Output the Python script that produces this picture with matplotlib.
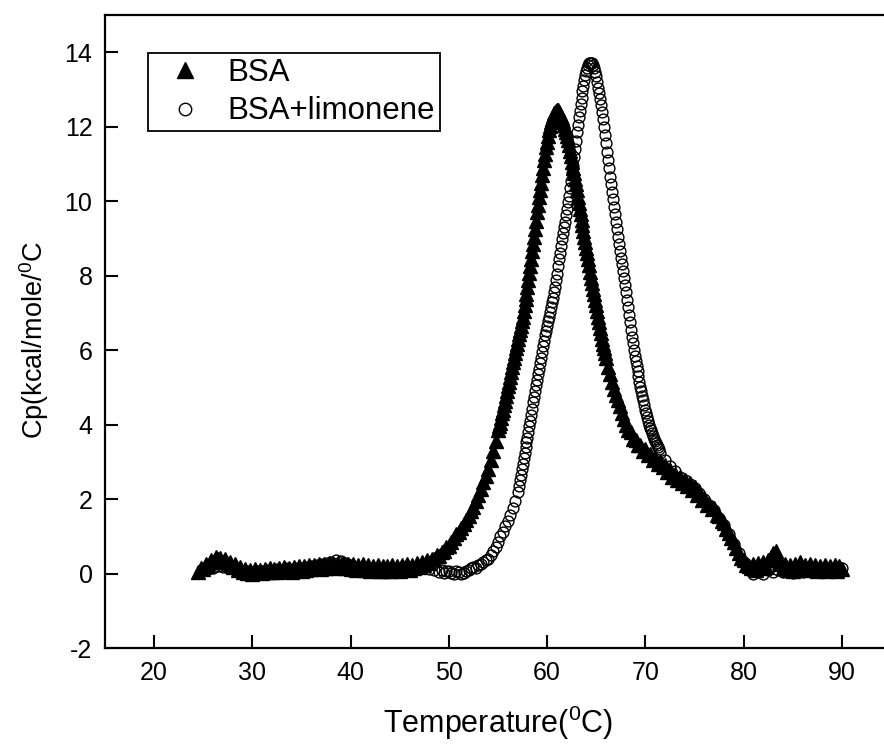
import matplotlib.pyplot as plt
import numpy as np

plt.rcParams['font.family'] = ['Liberation Sans', 'DejaVu Sans']
plt.rcParams['mathtext.fontset'] = 'custom'
plt.rcParams['mathtext.rm'] = 'Liberation Sans'
plt.rcParams['mathtext.it'] = 'Liberation Sans:italic'
plt.rcParams['axes.unicode_minus'] = False

# BSA (filled triangles): (temperature C, Cp)
bsa_base = [(24.50, 0.05), (24.75, 0.15), (25.00, 0.12), (25.25, 0.25), (25.50, 0.20), (25.75, 0.35),
            (26.00, 0.30), (26.25, 0.45), (26.50, 0.38), (26.75, 0.42), (27.00, 0.30), (27.25, 0.38),
            (27.50, 0.25), (27.75, 0.30), (28.00, 0.18), (28.25, 0.25), (28.50, 0.10), (28.75, 0.18),
            (29.00, 0.05), (29.25, 0.12), (29.50, 0.02), (29.75, 0.10), (30.00, 0.00), (30.25, 0.12),
            (30.50, 0.05), (30.75, 0.10), (31.00, 0.02), (31.25, 0.12), (31.50, 0.04), (31.75, 0.15),
            (32.00, 0.05), (32.25, 0.12), (32.50, 0.03), (32.75, 0.15), (33.00, 0.06), (33.25, 0.18),
            (33.50, 0.08), (33.75, 0.15), (34.00, 0.05), (34.25, 0.18), (34.50, 0.10), (34.75, 0.20),
            (35.00, 0.08), (35.25, 0.20), (35.50, 0.10), (35.75, 0.22), (36.00, 0.12), (36.25, 0.22),
            (36.50, 0.15), (36.75, 0.25), (37.00, 0.12), (37.25, 0.25), (37.50, 0.15), (37.75, 0.28),
            (38.00, 0.18), (38.25, 0.25), (38.50, 0.15), (38.75, 0.28), (39.00, 0.18), (39.25, 0.28),
            (39.50, 0.15), (39.75, 0.25), (40.00, 0.12), (40.25, 0.25), (40.50, 0.10), (40.75, 0.22),
            (41.00, 0.12), (41.25, 0.25), (41.50, 0.10), (41.75, 0.22), (42.00, 0.08), (42.25, 0.20),
            (42.50, 0.10), (42.75, 0.22), (43.00, 0.08), (43.25, 0.20), (43.50, 0.06), (43.75, 0.20),
            (44.00, 0.08), (44.25, 0.22), (44.50, 0.10), (44.75, 0.20), (45.00, 0.08), (45.25, 0.22),
            (45.50, 0.12), (45.75, 0.25), (46.00, 0.10), (46.25, 0.22), (46.50, 0.15), (46.75, 0.28),
            (47.00, 0.18), (47.25, 0.30), (47.50, 0.22), (47.75, 0.35), (48.00, 0.28), (48.25, 0.40),
            (48.50, 0.38), (48.75, 0.50), (49.00, 0.48), (49.25, 0.58), (49.50, 0.60), (49.75, 0.72)]
bsa_rise = [(50.00, 0.75), (50.25, 0.85), (50.50, 0.95), (50.75, 1.05), (51.00, 1.12), (51.25, 1.22),
            (51.50, 1.32), (51.75, 1.45), (52.00, 1.55), (52.25, 1.68), (52.50, 1.80), (52.75, 1.95),
            (53.00, 2.10), (53.25, 2.26), (53.50, 2.45), (53.75, 2.62), (54.00, 2.82), (54.25, 3.05),
            (54.50, 3.30), (54.75, 3.55),
            (55.0, 3.85), (55.1, 3.95), (55.2, 4.05), (55.3, 4.18), (55.4, 4.30), (55.5, 4.40),
            (55.6, 4.52), (55.7, 4.64), (55.8, 4.78), (55.9, 4.90), (56.0, 5.03), (56.1, 5.15),
            (56.2, 5.28), (56.3, 5.40), (56.4, 5.54), (56.5, 5.67), (56.6, 5.80), (56.7, 5.92),
            (56.8, 6.05), (56.9, 6.17), (57.0, 6.30), (57.1, 6.42), (57.2, 6.55), (57.3, 6.66),
            (57.4, 6.78), (57.5, 6.90), (57.6, 7.05), (57.7, 7.20), (57.8, 7.36), (57.9, 7.52),
            (58.0, 7.70), (58.1, 7.88), (58.2, 8.06), (58.3, 8.25), (58.4, 8.45), (58.5, 8.65),
            (58.6, 8.85), (58.7, 9.05), (58.8, 9.26), (58.9, 9.48), (59.0, 9.70), (59.1, 9.90),
            (59.2, 10.10), (59.3, 10.30), (59.4, 10.50), (59.5, 10.70), (59.6, 10.90), (59.7, 11.10),
            (59.8, 11.28), (59.9, 11.45), (60.0, 11.60), (60.1, 11.75), (60.2, 11.90), (60.3, 12.02),
            (60.4, 12.13), (60.5, 12.22), (60.6, 12.30), (60.7, 12.36), (60.8, 12.40), (60.9, 12.43),
            (61.0, 12.45), (61.1, 12.44), (61.2, 12.40)]
bsa_fall = [(61.3, 12.35), (61.4, 12.30), (61.5, 12.23), (61.6, 12.15), (61.7, 12.05), (61.8, 11.95),
            (61.9, 11.85), (62.0, 11.75), (62.1, 11.63), (62.2, 11.50), (62.3, 11.35), (62.4, 11.20),
            (62.5, 11.05), (62.6, 10.90), (62.7, 10.75), (62.8, 10.60), (62.9, 10.45), (63.0, 10.30),
            (63.1, 10.12), (63.2, 9.95), (63.3, 9.80), (63.4, 9.65), (63.5, 9.50), (63.6, 9.35),
            (63.7, 9.20), (63.8, 9.05), (63.9, 8.90), (64.0, 8.75), (64.1, 8.60), (64.2, 8.45),
            (64.3, 8.28), (64.4, 8.10), (64.5, 7.95), (64.6, 7.80), (64.7, 7.65), (64.8, 7.50),
            (64.9, 7.35), (65.0, 7.20), (65.1, 7.05), (65.2, 6.90), (65.3, 6.75), (65.4, 6.60),
            (65.5, 6.45), (65.6, 6.30), (65.7, 6.17), (65.8, 6.05), (65.9, 5.92), (66.0, 5.80),
            (66.2, 5.55), (66.4, 5.35), (66.6, 5.15), (66.8, 4.95), (67.0, 4.80), (67.2, 4.65),
            (67.4, 4.50), (67.6, 4.30), (67.8, 4.15), (68.0, 4.00)]
bsa_tail = [(68.25, 3.85), (68.50, 3.80), (68.75, 3.62), (69.00, 3.58), (69.25, 3.45), (69.50, 3.45),
            (69.75, 3.30), (70.00, 3.35), (70.25, 3.18), (70.50, 3.20), (70.75, 3.05), (71.00, 3.10),
            (71.25, 2.95), (71.50, 3.02), (71.75, 2.85), (72.00, 2.92), (72.25, 2.72), (72.50, 2.78),
            (72.75, 2.60), (73.00, 2.68), (73.25, 2.50), (73.50, 2.58), (73.75, 2.42), (74.00, 2.52),
            (74.25, 2.35), (74.50, 2.42), (74.75, 2.25), (75.00, 2.32), (75.25, 2.12), (75.50, 2.18),
            (75.75, 1.98), (76.00, 2.02), (76.25, 1.85), (76.50, 1.88), (76.75, 1.72), (77.00, 1.75),
            (77.25, 1.58), (77.50, 1.55), (77.75, 1.42), (78.00, 1.35), (78.25, 1.20), (78.50, 1.10),
            (78.75, 0.95), (79.00, 0.85), (79.25, 0.68), (79.50, 0.55), (79.75, 0.42), (80.00, 0.35),
            (80.25, 0.22), (80.50, 0.20), (80.75, 0.15), (81.00, 0.25), (81.25, 0.10), (81.50, 0.28),
            (81.75, 0.15), (82.00, 0.30), (82.25, 0.18), (82.50, 0.35), (82.75, 0.45), (83.00, 0.55),
            (83.25, 0.60), (83.50, 0.45), (83.75, 0.25), (84.00, 0.15), (84.25, 0.25), (84.50, 0.10),
            (84.75, 0.22), (85.00, 0.08), (85.25, 0.25), (85.50, 0.12), (85.75, 0.30), (86.00, 0.15),
            (86.25, 0.22), (86.50, 0.10), (86.75, 0.25), (87.00, 0.12), (87.25, 0.22), (87.50, 0.08),
            (87.75, 0.20), (88.00, 0.10), (88.25, 0.22), (88.50, 0.08), (88.75, 0.20), (89.00, 0.10),
            (89.25, 0.22), (89.50, 0.08), (89.75, 0.20), (90.00, 0.12)]

# BSA+limonene (open circles)
lim_base = [(25.0, 0.10), (25.5, 0.12), (26.0, 0.15), (26.5, 0.20), (27.0, 0.18), (27.5, 0.15),
            (28.0, 0.12), (28.5, 0.10), (29.0, 0.08), (29.5, 0.06), (30.0, 0.05), (30.5, 0.08),
            (31.0, 0.06), (31.5, 0.10), (32.0, 0.08), (32.5, 0.12), (33.0, 0.10), (33.5, 0.14),
            (34.0, 0.12), (34.5, 0.16), (35.0, 0.15), (35.5, 0.18), (36.0, 0.20), (36.5, 0.22),
            (37.0, 0.25), (37.5, 0.28), (38.0, 0.32), (38.5, 0.36), (39.0, 0.34), (39.5, 0.28),
            (40.0, 0.22), (40.5, 0.18), (41.0, 0.15), (41.5, 0.16), (42.0, 0.12), (42.5, 0.14),
            (43.0, 0.10), (43.5, 0.12), (44.0, 0.10), (44.5, 0.13), (45.0, 0.10), (45.5, 0.12),
            (46.0, 0.15), (46.5, 0.12), (47.0, 0.18), (47.5, 0.15), (48.0, 0.12), (48.5, 0.10),
            (49.0, 0.05), (49.25, 0.10), (49.5, 0.02), (49.75, 0.08), (50.0, 0.08), (50.25, 0.02),
            (50.5, 0.00), (50.75, 0.06), (51.0, 0.05), (51.25, 0.00), (51.5, 0.02), (51.75, 0.08),
            (52.0, 0.10), (52.25, 0.15), (52.5, 0.18), (52.75, 0.16), (53.0, 0.22), (53.25, 0.25),
            (53.5, 0.30), (53.75, 0.35)]
lim_rise = [(54.00, 0.40), (54.25, 0.50), (54.50, 0.60), (54.75, 0.72), (55.00, 0.85), (55.25, 1.00),
            (55.50, 1.12), (55.75, 1.28), (56.00, 1.42), (56.25, 1.58), (56.50, 1.75), (56.75, 1.95),
            (57.0, 2.20), (57.1, 2.35), (57.2, 2.50), (57.3, 2.65), (57.4, 2.80), (57.5, 2.95),
            (57.6, 3.10), (57.7, 3.25), (57.8, 3.40), (57.9, 3.52), (58.0, 3.65), (58.1, 3.80),
            (58.2, 3.95), (58.3, 4.10), (58.4, 4.25), (58.5, 4.42), (58.6, 4.60), (58.7, 4.75),
            (58.8, 4.90), (58.9, 5.05), (59.0, 5.20), (59.1, 5.35), (59.2, 5.50), (59.3, 5.65),
            (59.4, 5.80), (59.5, 5.95), (59.6, 6.10), (59.7, 6.25), (59.8, 6.40), (59.9, 6.52),
            (60.0, 6.65), (60.1, 6.78), (60.2, 6.90), (60.3, 7.02), (60.4, 7.15), (60.5, 7.28),
            (60.6, 7.40), (60.7, 7.55), (60.8, 7.70), (60.9, 7.88), (61.0, 8.05), (61.1, 8.25),
            (61.2, 8.45), (61.3, 8.62), (61.4, 8.80), (61.5, 8.98), (61.6, 9.15), (61.7, 9.30),
            (61.8, 9.45), (61.9, 9.62), (62.0, 9.80), (62.1, 9.98), (62.2, 10.15), (62.3, 10.35),
            (62.4, 10.55), (62.5, 10.75), (62.6, 10.95), (62.7, 11.18), (62.8, 11.40), (62.9, 11.62),
            (63.0, 11.85), (63.1, 12.05), (63.2, 12.25), (63.3, 12.42), (63.4, 12.60), (63.5, 12.78),
            (63.6, 12.95), (63.7, 13.10), (63.8, 13.25), (63.9, 13.38), (64.0, 13.50), (64.1, 13.58),
            (64.2, 13.65), (64.3, 13.70), (64.4, 13.72), (64.5, 13.72)]
lim_fall = [(64.6, 13.70), (64.7, 13.65), (64.8, 13.58), (64.9, 13.48), (65.0, 13.35), (65.1, 13.20),
            (65.2, 13.05), (65.3, 12.90), (65.4, 12.75), (65.5, 12.58), (65.6, 12.40), (65.7, 12.20),
            (65.8, 12.00), (65.9, 11.78), (66.0, 11.55), (66.1, 11.32), (66.2, 11.10), (66.3, 10.88),
            (66.4, 10.65), (66.5, 10.45), (66.6, 10.25), (66.7, 10.05), (66.8, 9.85), (66.9, 9.65),
            (67.0, 9.45), (67.1, 9.25), (67.2, 9.05), (67.3, 8.85), (67.4, 8.65), (67.5, 8.48),
            (67.6, 8.30), (67.7, 8.12), (67.8, 7.95), (67.9, 7.75), (68.0, 7.55), (68.1, 7.35),
            (68.2, 7.15), (68.3, 6.95), (68.4, 6.75), (68.5, 6.55), (68.6, 6.35), (68.7, 6.18),
            (68.8, 6.00), (68.9, 5.85), (69.0, 5.70), (69.1, 5.58), (69.2, 5.45), (69.3, 5.30),
            (69.4, 5.15), (69.5, 5.02), (69.6, 4.90), (69.7, 4.78), (69.8, 4.65), (69.9, 4.52),
            (70.0, 4.40), (70.1, 4.30), (70.2, 4.20), (70.3, 4.10), (70.4, 4.00), (70.5, 3.92),
            (70.6, 3.85), (70.7, 3.78), (70.8, 3.70), (70.9, 3.62), (71.0, 3.55), (71.1, 3.50),
            (71.2, 3.45), (71.3, 3.40), (71.4, 3.35)]
lim_tail = [(71.5, 3.25), (72.0, 3.05), (72.5, 2.90), (73.0, 2.75), (73.5, 2.60), (74.0, 2.50),
            (74.5, 2.40), (75.0, 2.30), (75.5, 2.15), (76.0, 2.00), (76.5, 1.85), (77.0, 1.70),
            (77.5, 1.50), (78.0, 1.30), (78.5, 1.05), (79.0, 0.80), (79.5, 0.55), (80.0, 0.30),
            (80.5, 0.10), (81.0, 0.00), (81.5, 0.05), (82.0, 0.00), (82.5, 0.10), (83.0, 0.05),
            (83.5, 0.10), (84.0, 0.05), (84.5, 0.08), (85.0, 0.02), (85.5, 0.06), (86.0, 0.05),
            (86.5, 0.08), (87.0, 0.04), (87.5, 0.08), (88.0, 0.05), (88.5, 0.06), (89.0, 0.10),
            (89.5, 0.08), (90.0, 0.15)]

x_ticks = [20, 30, 40, 50, 60, 70, 80, 90]
y_ticks = [-2, 0, 2, 4, 6, 8, 10, 12, 14]

bsa = np.array(bsa_base + bsa_rise + bsa_fall + bsa_tail)
lim = np.array(lim_base + lim_rise + lim_fall + lim_tail)

fig = plt.figure(figsize=(8.84, 7.48), dpi=100)
# axes runs a little past the right edge of the picture, as in the original
ax = fig.add_axes([105 / 884, 100 / 748, 786 / 884, 633 / 748])

ax.plot(bsa[:, 0], bsa[:, 1], linestyle='none', marker='^', ms=10,
        color='black', mec='black', label='BSA')
ax.plot(lim[:, 0], lim[:, 1], linestyle='none', marker='o', ms=7.8,
        mfc='none', mec='black', mew=1.0, label='BSA+limonene')

ax.set_xlim(15, 95)
ax.set_ylim(-2, 15)
ax.set_xticks(x_ticks)
ax.set_yticks(y_ticks)
ax.tick_params(direction='in', length=9.5, width=1.5, labelsize=18, pad=9)
for side in ['left', 'bottom', 'top']:
    ax.spines[side].set_linewidth(1.6)
ax.spines['right'].set_visible(False)

ax.set_xlabel('Temperature($^{\\mathrm{0}}$C)', fontsize=22, labelpad=14)
ax.set_ylabel('Cp(kcal/mole/$^{\\mathrm{0}}$C', fontsize=19.5, labelpad=10)
ax.yaxis.label.set_y(0.487)

leg = ax.legend(loc='upper left', bbox_to_anchor=(148 / 884, 1 - 53 / 748),
                bbox_transform=fig.transFigure, borderaxespad=0, fontsize=22.5,
                frameon=True, fancybox=False, framealpha=1, edgecolor='black',
                handlelength=2.05, handletextpad=0.35, borderpad=0.15,
                labelspacing=0.28, numpoints=1, markerscale=1.15)
leg.get_frame().set_linewidth(1.3)

plt.savefig('out.png', dpi=100)
